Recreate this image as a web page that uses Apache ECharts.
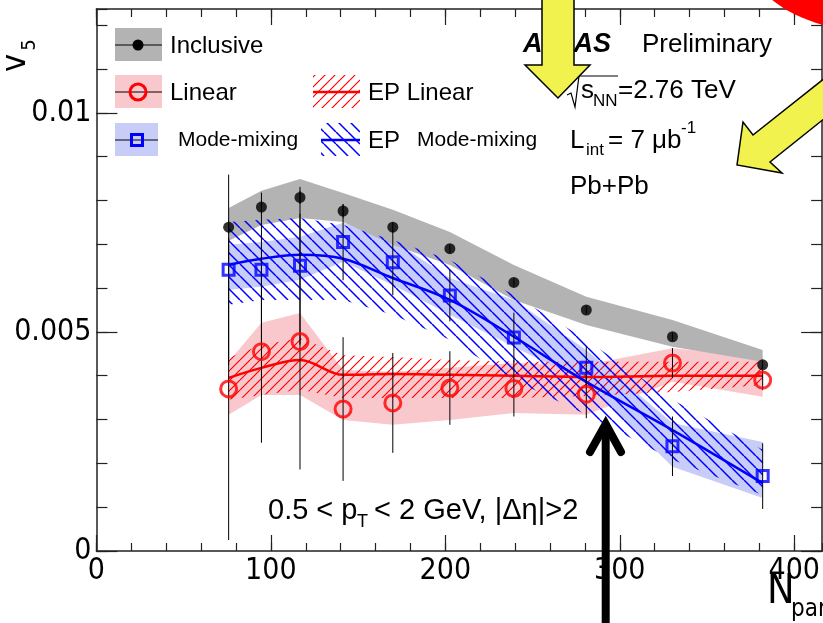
<!DOCTYPE html>
<html>
<head>
<meta charset="utf-8">
<script src="https://cdn.jsdelivr.net/npm/echarts/dist/echarts.min.js"></script>
<style>
  html, body { margin: 0; padding: 0; background: #fff; }
  #chart { width: 823px; height: 623px; }
</style>
</head>
<body>
<div id="chart"></div>
<script>
// Centrality bins, as mean number of participants
const nPart = [75.8, 94.6, 116.7, 141.4, 169.9, 202.6, 239.3, 280.8, 330.2, 381.9];

// Inclusive v5
const v5Inclusive     = [0.00739, 0.00785, 0.00807, 0.00776, 0.00739, 0.00690, 0.00613, 0.00550, 0.00489, 0.00425];
const v5InclusiveStat = [0.00015, 0.00015, 0.00015, 0.00015, 0.00012, 0.00010, 0.00010, 0.00010, 0.00010, 0.00010];
const v5InclusiveSysLo = [0.00708, 0.00744, 0.00760, 0.00751, 0.00699, 0.00653, 0.00573, 0.00516, 0.00466, 0.00432];
const v5InclusiveSysHi = [0.00783, 0.00822, 0.00849, 0.00817, 0.00779, 0.00728, 0.00653, 0.00580, 0.00527, 0.00459];

// Linear component
const v5Linear      = [0.00370, 0.00455, 0.00478, 0.00324, 0.00338, 0.00372, 0.00371, 0.00358, 0.00429, 0.00390];
const v5LinearStat  = [0.00345, 0.00208, 0.00292, 0.00164, 0.00114, 0.00084, 0.00064, 0.00055, 0.00034, 0.00023];
const v5LinearSysLo = [0.00311, 0.00356, 0.00356, 0.00299, 0.00288, 0.00299, 0.00315, 0.00311, 0.00386, 0.00352];
const v5LinearSysHi = [0.00432, 0.00521, 0.00543, 0.00413, 0.00409, 0.00418, 0.00429, 0.00425, 0.00463, 0.00443];

// Mode-mixing component
const v5Mixing      = [0.00642, 0.00642, 0.00651, 0.00705, 0.00659, 0.00583, 0.00487, 0.00418, 0.00239, 0.00171];
const v5MixingStat  = [0.00217, 0.00176, 0.00180, 0.00087, 0.00075, 0.00059, 0.00057, 0.00048, 0.00068, 0.00075];
const v5MixingSysLo = [0.00596, 0.00603, 0.00619, 0.00660, 0.00607, 0.00539, 0.00466, 0.00384, 0.00192, 0.00121];
const v5MixingSysHi = [0.00699, 0.00705, 0.00717, 0.00749, 0.00710, 0.00623, 0.00573, 0.00459, 0.00292, 0.00249];

// Event-plane based estimates
const epLinear      = [0.00395, 0.00418, 0.00436, 0.00402, 0.00404, 0.00402, 0.00400, 0.00397, 0.00400, 0.00400];
const epLinearLo    = [0.00345, 0.00356, 0.00368, 0.00349, 0.00349, 0.00349, 0.00349, 0.00354, 0.00363, 0.00379];
const epLinearHi    = [0.00441, 0.00470, 0.00486, 0.00447, 0.00443, 0.00436, 0.00432, 0.00432, 0.00432, 0.00432];
const epMixing      = [0.00653, 0.00667, 0.00676, 0.00667, 0.00623, 0.00573, 0.00489, 0.00386, 0.00276, 0.00155];
const epMixingLo    = [0.00562, 0.00573, 0.00573, 0.00573, 0.00539, 0.00482, 0.00390, 0.00311, 0.00208, 0.00128];
const epMixingHi    = [0.00751, 0.00756, 0.00760, 0.00744, 0.00710, 0.00664, 0.00584, 0.00482, 0.00345, 0.00231];

// Axis settings
const X_MIN = 0, X_MAX = 416, X_MAJOR = 100, X_MINOR = 20;
const Y_MIN = 0, Y_MAX = 0.01237, Y_MAJOR = 0.005, Y_MINOR = 0.001;

const SANS = "'Liberation Sans', Arial, Helvetica, sans-serif";
const NARROW = "'Liberation Sans Narrow', 'DejaVu Sans Condensed', 'Liberation Sans', sans-serif";

const GRAY = '#b3b3b3';
const PINK = '#f9c8cd';
const LIGHTBLUE = '#c8cdf8';
const RED = '#ff0000';
const BLUE = '#0000ff';

// Diagonal hatch tiles
function hatch(color, gap, lw, forward) {
  const c = document.createElement('canvas');
  c.width = gap; c.height = gap;
  const g = c.getContext('2d');
  g.strokeStyle = color; g.lineWidth = lw;
  g.beginPath();
  for (let k = 0; k <= 2; k++) {
    if (forward) { g.moveTo(k * gap - gap, gap); g.lineTo(k * gap, 0); }
    else { g.moveTo(k * gap - gap, 0); g.lineTo(k * gap, gap); }
  }
  g.stroke();
  return { image: c, repeat: 'repeat' };
}
const redHatch = hatch(RED, 10, 1.2, true);
const blueHatch = hatch(BLUE, 12, 1.5, false);

// Filled band between two value arrays
function band(name, lo, hi, fill, z) {
  return {
    type: 'custom', name, z, silent: true, clip: true,
    data: nPart.map((x, i) => [x, lo[i], hi[i]]),
    renderItem(params, api) {
      if (params.dataIndex !== 0) return { type: 'group', children: [] };
      const top = [], bottom = [];
      for (let i = 0; i < nPart.length; i++) {
        top.push(api.coord([nPart[i], hi[i]]));
        bottom.push(api.coord([nPart[i], lo[i]]));
      }
      return { type: 'polygon', shape: { points: top.concat(bottom.reverse()) }, style: { fill, stroke: null } };
    }
  };
}

// Vertical statistical error bars
function errorBars(name, vals, errs, z) {
  return {
    type: 'custom', name, z, silent: true, clip: true,
    data: nPart.map((x, i) => [x, vals[i] - errs[i], vals[i] + errs[i]]),
    renderItem(params, api) {
      const a = api.coord([api.value(0), api.value(1)]);
      const b = api.coord([api.value(0), api.value(2)]);
      return { type: 'line', shape: { x1: a[0], y1: a[1], x2: b[0], y2: b[1] }, style: { stroke: '#000', lineWidth: 1 } };
    }
  };
}

function points(name, vals, symbol, size, style, z) {
  return {
    type: 'scatter', name, z, symbol, symbolSize: size,
    data: nPart.map((x, i) => [x, vals[i]]),
    itemStyle: style, silent: true
  };
}

function curve(name, vals, color, z) {
  return {
    type: 'line', name, z, smooth: 0.35, showSymbol: false, silent: true,
    data: nPart.map((x, i) => [x, vals[i]]),
    lineStyle: { color, width: 2.5 }
  };
}

// Frame axes: major ticks with labels, minor ticks on separate axes
const axisCol = '#222';
function xAx(pos, interval, len, labels, line) {
  return {
    type: 'value', position: pos, min: X_MIN, max: X_MAX, interval,
    axisLine: { show: line, onZero: false, lineStyle: { color: axisCol, width: 1.5 } },
    axisTick: { show: true, inside: true, length: len, lineStyle: { color: axisCol, width: 1.2 } },
    axisLabel: labels ? { show: true, fontFamily: NARROW, fontSize: 30, color: '#000', margin: 5, showMaxLabel: false } : { show: false },
    splitLine: { show: false }
  };
}
function yAx(pos, interval, len, labels, line) {
  return {
    type: 'value', position: pos, min: Y_MIN, max: Y_MAX, interval,
    axisLine: { show: line, onZero: false, lineStyle: { color: axisCol, width: 1.5 } },
    axisTick: { show: true, inside: true, length: len, lineStyle: { color: axisCol, width: 1.2 } },
    axisLabel: labels ? { show: true, fontFamily: NARROW, fontSize: 30, color: '#000', margin: 5, showMaxLabel: false } : { show: false },
    splitLine: { show: false }
  };
}

function txt(x, y, text, size, o = {}) {
  return {
    type: 'text', x, y, z: 100, silent: true, rotation: o.rotation || 0,
    style: {
      text, fill: o.fill || '#000',
      font: `${o.style || 'normal'} ${o.weight || 'normal'} ${size}px ${o.family || SANS}`,
      textAlign: o.align || 'left', textVerticalAlign: 'middle',
      align: o.align || 'left', verticalAlign: 'middle'
    }
  };
}
function ln(x1, y1, x2, y2, color, w) {
  return { type: 'line', z: 100, silent: true, shape: { x1, y1, x2, y2 }, style: { stroke: color, lineWidth: w } };
}
function box(x, y, w, h, fill) {
  return { type: 'rect', z: 99, silent: true, shape: { x, y, width: w, height: h }, style: { fill } };
}

const legend = [
  box(115, 28, 47, 33, GRAY), ln(115, 45, 162, 45, '#000', 1),
  { type: 'circle', z: 101, silent: true, shape: { cx: 138, cy: 45, r: 5.5 }, style: { fill: '#000' } },
  txt(170, 46, 'Inclusive', 24),

  box(115, 75, 47, 33, PINK), ln(115, 92, 162, 92, '#000', 1),
  { type: 'circle', z: 101, silent: true, shape: { cx: 138, cy: 92, r: 8 }, style: { fill: null, stroke: RED, lineWidth: 3 } },
  txt(170, 93, 'Linear', 24),

  box(115, 123, 43, 33, LIGHTBLUE), ln(115, 140, 158, 140, '#000', 1),
  { type: 'rect', z: 101, silent: true, shape: { x: 131.5, y: 134.5, width: 11, height: 11 }, style: { fill: null, stroke: BLUE, lineWidth: 3 } },
  txt(178, 140, 'Mode-mixing', 21),

  box(313, 75, 47, 33, redHatch), ln(313, 92, 360, 92, RED, 2.5),
  txt(368, 93, 'EP Linear', 24),

  box(321, 123, 39, 33, blueHatch), ln(321, 140, 360, 140, BLUE, 2.5),
  txt(368, 141, 'EP', 24),
  txt(417, 140, 'Mode-mixing', 21)
];

const labels = [
  txt(523, 45, 'ATLAS', 27, { style: 'italic', weight: 'bold' }),
  txt(642, 45, 'Preliminary', 26),
  { type: 'polyline', z: 100, silent: true, shape: { points: [[567, 95], [571, 93], [575, 107], [579, 76], [618, 76]] }, style: { stroke: '#000', lineWidth: 1.2, fill: null } },
  txt(581, 91, 's', 26), txt(593, 101, 'NN', 17), txt(618, 91, '=2.76 TeV', 26),
  txt(570, 141, 'L', 26), txt(586, 150, 'int', 17), txt(608, 141, '= 7 μb', 26), txt(681, 128, '-1', 17),
  txt(570, 187, 'Pb+Pb', 26),
  txt(268, 511, '0.5 < p', 29), txt(357, 522, 'T', 18), txt(366, 511, ' < 2 GeV, |Δη|>2', 29),
  // axis titles
  txt(16, 63, 'v', 34, { family: NARROW, rotation: Math.PI / 2, align: 'center' }),
  txt(30, 45, '5', 20, { family: NARROW, rotation: Math.PI / 2, align: 'center' }),
  txt(767, 592, 'N', 41, { family: NARROW }),
  txt(791, 610, 'part', 24, { family: NARROW })
];

// Slide annotations drawn over the plot
const YELLOW = '#f2f24f';
const annotations = [
  { type: 'ellipse', z: 105, silent: true, shape: { cx: 890, cy: -40, rx: 140, ry: 74 },
    style: { fill: RED, stroke: null } },
  { type: 'polygon', z: 110, silent: true,
    shape: { points: [[542, -5], [574, -5], [574, 65], [590, 65], [558, 98], [525, 65], [542, 65]] },
    style: { fill: YELLOW, stroke: '#000', lineWidth: 1.5 } },
  { type: 'polygon', z: 110, silent: true,
    shape: { points: [[737, 165], [743, 122], [753, 135], [850, 58], [850, 98], [770, 162], [782, 173]] },
    style: { fill: YELLOW, stroke: '#000', lineWidth: 1.5 } },
  { type: 'polyline', z: 110, silent: true,
    shape: { points: [[590, 452], [605.7, 424], [621, 452]] },
    style: { stroke: '#000', lineWidth: 8, fill: null, lineCap: 'round', lineJoin: 'miter' } },
  { type: 'line', z: 110, silent: true, shape: { x1: 605.7, y1: 424, x2: 605.7, y2: 640 }, style: { stroke: '#000', lineWidth: 8 } }
];

const chart = echarts.init(document.getElementById('chart'), null, { renderer: 'canvas' });
chart.setOption({
  animation: false,
  backgroundColor: '#fff',
  grid: { left: 96.4, right: -3, top: 9, bottom: 72, containLabel: false },
  xAxis: [
    xAx('bottom', X_MAJOR, 16, true, true),
    xAx('bottom', X_MINOR, 8, false, false),
    xAx('top', X_MAJOR, 16, false, true),
    xAx('top', X_MINOR, 8, false, false)
  ],
  yAxis: [
    yAx('left', Y_MAJOR, 21, true, true),
    yAx('left', Y_MINOR, 11, false, false),
    yAx('right', Y_MAJOR, 21, false, true),
    yAx('right', Y_MINOR, 11, false, false)
  ],
  series: [
    band('Linear sys', v5LinearSysLo, v5LinearSysHi, PINK, 1),
    band('Mode-mixing sys', v5MixingSysLo, v5MixingSysHi, LIGHTBLUE, 2),
    band('Inclusive sys', v5InclusiveSysLo, v5InclusiveSysHi, GRAY, 3),
    band('EP Linear', epLinearLo, epLinearHi, redHatch, 4),
    band('EP Mode-mixing', epMixingLo, epMixingHi, blueHatch, 4),
    curve('EP Linear line', epLinear, RED, 5),
    curve('EP Mode-mixing line', epMixing, BLUE, 5),
    errorBars('Linear stat', v5Linear, v5LinearStat, 6),
    errorBars('Mode-mixing stat', v5Mixing, v5MixingStat, 6),
    errorBars('Inclusive stat', v5Inclusive, v5InclusiveStat, 6),
    points('Linear', v5Linear, 'circle', 16, { color: 'rgba(0,0,0,0)', borderColor: RED, borderWidth: 3 }, 7),
    points('Mode-mixing', v5Mixing, 'rect', 11, { color: 'rgba(0,0,0,0)', borderColor: BLUE, borderWidth: 3 }, 7),
    points('Inclusive', v5Inclusive, 'circle', 11, { color: '#000' }, 8)
  ],
  graphic: { elements: legend.concat(labels, annotations) }
});
</script>
</body>
</html>
